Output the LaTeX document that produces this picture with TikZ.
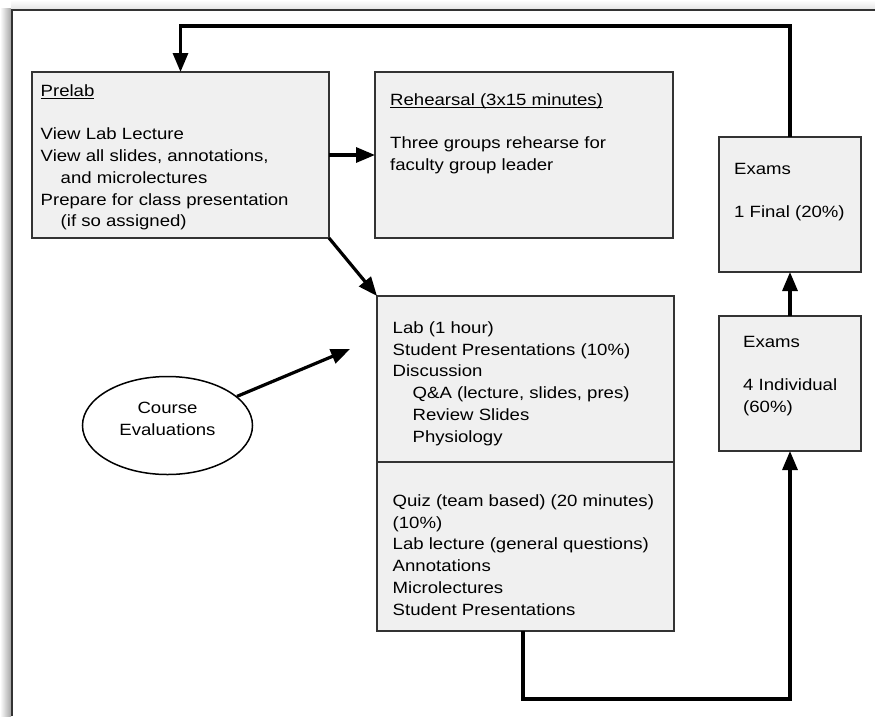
\documentclass[tikz,border=0pt]{standalone}
\usepackage{fontspec}
\setmainfont{Liberation Sans}[FakeStretch=1.14]
\usetikzlibrary{arrows.meta,shapes.geometric}
\definecolor{boxfill}{HTML}{F0F0F0}
\definecolor{boxline}{HTML}{333333}
\newcommand\myul[1]{\setbox0\hbox{#1}\rlap{\rule[-2.2pt]{\wd0}{1pt}}\box0}
\begin{document}
\begin{tikzpicture}[x=1pt,y=-1pt,
  boxnode/.style={draw=boxline,fill=boxfill,line width=1.5pt,rectangle,inner sep=0pt,outer sep=0pt},
  txt/.style={anchor=base west,inner sep=0pt,font=\fontsize{16.3}{21.7}\selectfont},
  ctxt/.style={anchor=base,inner sep=0pt,font=\fontsize{16.3}{21.7}\selectfont},
  arr/.style={line width=3.2pt,draw=black,-{Triangle[length=19pt,width=15pt]}}
]
\useasboundingbox (0,0) rectangle (875,716);
\fill[white] (0,0) rectangle (875,716);
% frame and shadow
\shade[left color=white,right color=black!35] (0,8) rectangle (11,716);
\shade[top color=white,bottom color=black!10] (11,0) rectangle (875,9);
\draw[boxline,line width=2pt] (12,716) -- (12,10) -- (875,10);

% boxes
\node[boxnode,minimum width=297pt,minimum height=166pt] (prelab) at (180.5,155) {};
\node[boxnode,minimum width=298pt,minimum height=166pt] (reh) at (524,155) {};
\node[boxnode,minimum width=142pt,minimum height=135pt] (ex1) at (790,204.5) {};
\node[boxnode,minimum width=297pt,minimum height=335pt] (lab) at (525.5,463.5) {};
\node[boxnode,minimum width=142pt,minimum height=135pt] (ex2) at (790,383.5) {};
\coordinate (div) at (0,462);
\draw[boxline,line width=1.5pt] (lab.west |- div) -- (lab.east |- div);
\node[draw=black,fill=white,line width=1.5pt,ellipse,minimum width=170pt,minimum height=98pt,inner sep=0pt] (eval) at (167.5,425.5) {};

% texts
\node[txt] (prelabt) at (40.5,96.5) {\begin{tabular}[t]{@{}l@{}}\myul{Prelab}\\ \\ View Lab Lecture\\ View all slides, annotations,\\ \hspace*{20pt}and microlectures\\ Prepare for class presentation\\ \hspace*{20pt}(if so assigned)\end{tabular}};
\node[txt] (reht) at (390,105.5) {\begin{tabular}[t]{@{}l@{}}\myul{Rehearsal (3x15 minutes)}\\ \\ Three groups rehearse for\\ faculty group leader\end{tabular}};
\node[txt] (ex1t) at (734,174) {\begin{tabular}[t]{@{}l@{}}Exams\\ \\ 1 Final (20\%)\end{tabular}};
\node[txt] (ex2t) at (743,347.5) {\begin{tabular}[t]{@{}l@{}}Exams\\ \\ 4 Individual\\ (60\%)\end{tabular}};
\node[txt] (labt) at (392.5,333.5) {\begin{tabular}[t]{@{}l@{}}Lab (1 hour)\\ Student Presentations (10\%)\\ Discussion\\ \hspace*{20pt}Q\&A (lecture, slides, pres)\\ \hspace*{20pt}Review Slides\\ \hspace*{20pt}Physiology\end{tabular}};
\node[txt] (quizt) at (392.5,506.5) {\begin{tabular}[t]{@{}l@{}}Quiz (team based) (20 minutes)\\ (10\%)\\ Lab lecture (general questions)\\ Annotations\\ Microlectures\\ Student Presentations\end{tabular}};
\node[ctxt] (evalt) at (167.5,413.5) {\begin{tabular}[t]{@{}c@{}}Course\\ Evaluations\end{tabular}};

% connectors
\coordinate (top) at (500,26);
\coordinate (bot) at (523,699);
\coordinate (evtip) at (350,349);
\draw[arr] (ex1.north) |- (top) -| (prelab.north);
\draw[arr] (prelab.east) -- (reh.west);
\draw[arr] (prelab.south east) -- (lab.north west);
\draw[arr] (eval) -- (evtip);
\draw[arr] (ex2.north) -- (ex1.south);
\draw[arr] (lab.south -| bot) -- (bot) -| (ex2.south);
\end{tikzpicture}
\end{document}
